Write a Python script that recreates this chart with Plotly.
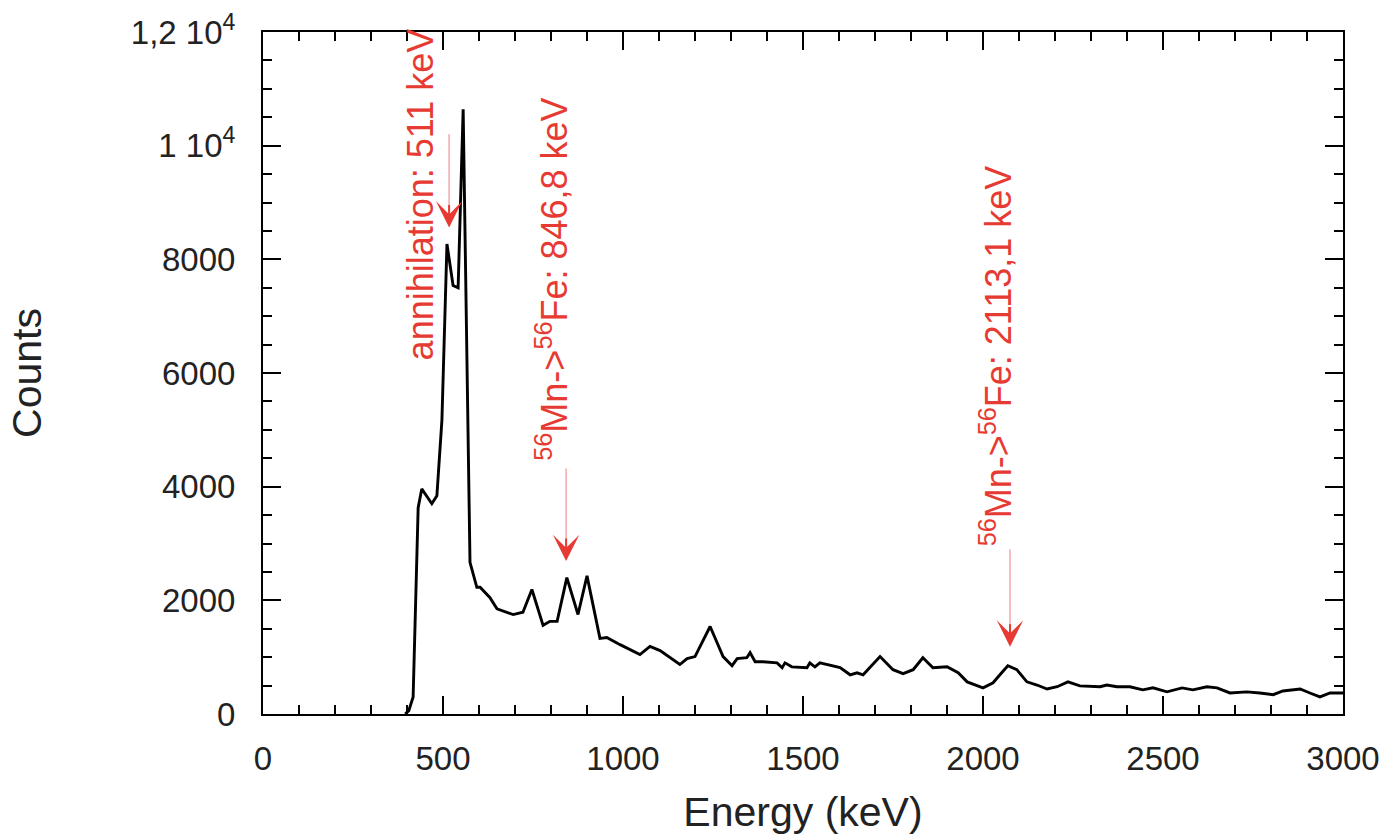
import plotly.graph_objects as go

# Spectrum data
energy_kev = [395, 405, 417, 431, 441, 469, 483, 497, 511, 528, 542, 556, 575, 594, 603,
              630, 650, 695, 722, 747, 778, 797, 817, 844, 875, 900, 936, 955, 992,
              1047, 1075, 1103, 1158, 1178, 1200, 1242, 1278, 1303, 1317, 1344, 1353,
              1367, 1389, 1428, 1442, 1450, 1469, 1511, 1519, 1533, 1547, 1603, 1631,
              1650, 1667, 1714, 1750, 1778, 1806, 1833, 1861, 1900, 1931, 1956, 2000,
              2028, 2047, 2069, 2094, 2122, 2150, 2178, 2206, 2236, 2269, 2325, 2344,
              2372, 2408, 2444, 2472, 2511, 2553, 2583, 2622, 2650, 2686, 2733, 2769,
              2806, 2833, 2881, 2908, 2936, 2964, 3000]
counts = [0, 60, 300, 3630, 3960, 3700, 3840, 5170, 8270, 7540, 7500, 10640, 2670, 2230, 2230,
          2050, 1850, 1750, 1790, 2190, 1560, 1630, 1630, 2400, 1750, 2430, 1330, 1345, 1220,
          1045, 1190, 1115, 870, 975, 1010, 1540, 1010, 850, 975, 990, 1080,
          920, 920, 900, 815, 900, 830, 815, 900, 830, 900, 815, 690,
          725, 690, 1010, 780, 710, 780, 990, 815, 830, 725, 565, 460,
          550, 690, 850, 780, 566, 510, 440, 480, 566, 495, 480, 510,
          480, 480, 425, 460, 390, 460, 425, 480, 460, 370, 390, 370,
          340, 405, 440, 370, 300, 370, 370]

y_tick_vals = [0, 2000, 4000, 6000, 8000, 10000, 12000]
y_tick_text = ["0", "2000", "4000", "6000", "8000", "1 10<sup>4</sup>", "1,2 10<sup>4</sup>"]
x_tick_vals = [0, 500, 1000, 1500, 2000, 2500, 3000]

# Annotations: label, text centre (E, counts), arrow x, line top, arrow tip
ann_labels = ["annihilation: 511 keV",
              "<sup>56</sup>Mn-&gt;<sup>56</sup>Fe: 846,8 keV",
              "<sup>56</sup>Mn-&gt;<sup>56</sup>Fe: 2113,1 keV"]
ann_text_x = [440, 804, 2037]
ann_text_y = [9150, 7650, 6300]
ann_arrow_x = [517, 842, 2075]
ann_line_top = [10200, 4320, 2900]
ann_arrow_tip = [8560, 2690, 1185]

RED = "#e63a32"
PINK = "#f2a8a8"
FONT = "Liberation Sans, Arial, sans-serif"

fig = go.Figure()
fig.add_trace(go.Scatter(x=energy_kev, y=counts, mode="lines",
                         line=dict(color="black", width=2.9), showlegend=False,
                         cliponaxis=True))

for i in range(3):
    fig.add_shape(type="line", x0=ann_arrow_x[i], x1=ann_arrow_x[i],
                  y0=ann_line_top[i], y1=ann_arrow_tip[i] + 300,
                  line=dict(color=PINK, width=1.5), layer="above")
    fig.add_annotation(x=ann_arrow_x[i], y=ann_arrow_tip[i], ax=0, ay=-24,
                       axref="pixel", ayref="pixel", text="", showarrow=True,
                       arrowhead=3, arrowsize=2.2, arrowwidth=2, arrowcolor=RED)
    fig.add_annotation(x=ann_text_x[i], y=ann_text_y[i], text=ann_labels[i],
                       textangle=-90, showarrow=False, xanchor="center", yanchor="middle",
                       font=dict(family=FONT, size=36, color=RED))

axis_common = dict(showline=True, linecolor="black", linewidth=2, mirror="ticks",
                   ticks="inside", ticklen=18, tickwidth=1.8, tickcolor="black",
                   showgrid=False, zeroline=False,
                   tickfont=dict(family=FONT, size=33, color="#222"))

fig.update_xaxes(range=[0, 3000], tickvals=x_tick_vals,
                 minor=dict(dtick=100, ticks="inside", ticklen=9, tickwidth=1.5, tickcolor="black"),
                 ticklabelstandoff=14,
                 title=dict(text="Energy (keV)", font=dict(family=FONT, size=41, color="#222"), standoff=22),
                 **axis_common)
fig.update_yaxes(range=[0, 12000], tickvals=y_tick_vals, ticktext=y_tick_text,
                 minor=dict(dtick=500, ticks="inside", ticklen=9, tickwidth=1.5, tickcolor="black"),
                 ticklabelstandoff=19,
                 title=dict(text="Counts", font=dict(family=FONT, size=41, color="#222"), standoff=76),
                 **axis_common)

fig.update_layout(width=1395, height=838, plot_bgcolor="white", paper_bgcolor="white",
                  margin=dict(l=263, r=52, t=32, b=124, pad=0),
                  xaxis_automargin=False, yaxis_automargin=False)

fig.write_html("out.html")
